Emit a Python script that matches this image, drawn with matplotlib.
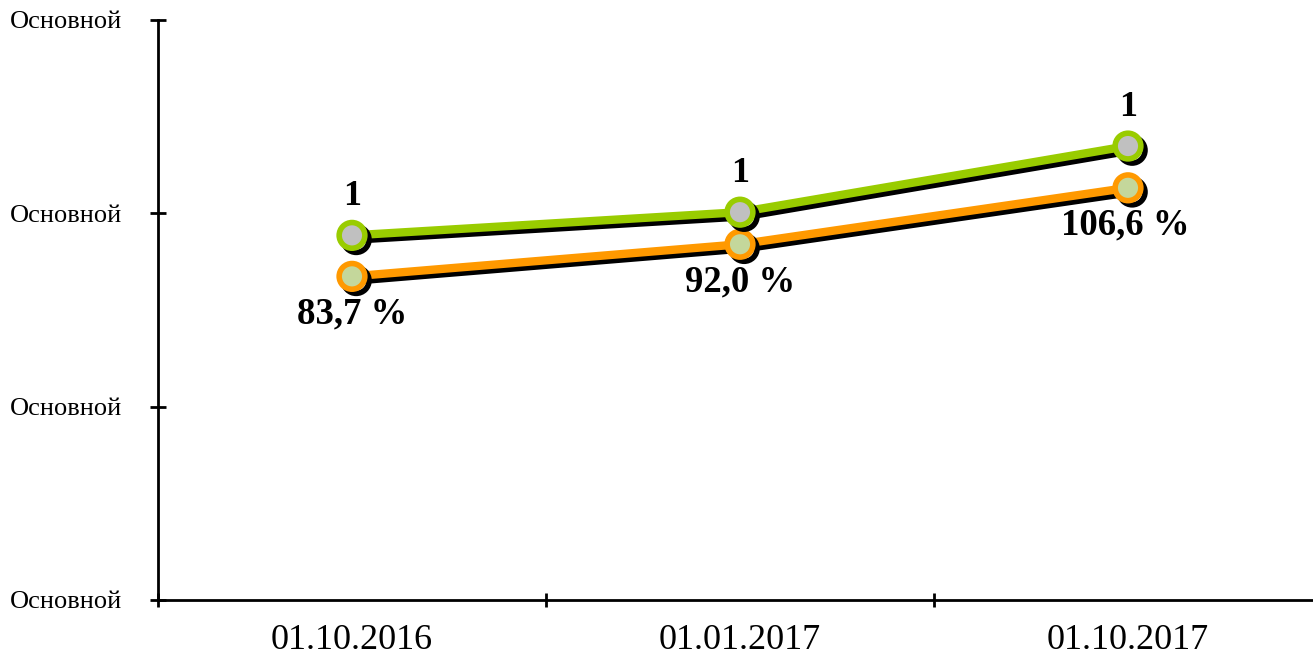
import matplotlib
matplotlib.use("Agg")
import matplotlib.pyplot as plt
import matplotlib.patheffects as pe
from matplotlib.ticker import FixedLocator

categories = ["01.10.2016", "01.01.2017", "01.10.2017"]
green_vals = [0.943, 1.003, 1.174]
orange_vals = [0.837, 0.920, 1.066]
green_labels = ["1", "1", "1"]
orange_labels = ["83,7 %", "92,0 %", "106,6 %"]
y_ticks = [0.0, 0.5, 1.0, 1.5]
y_tick_labels = ["Основной"] * 4

plt.rcParams['font.family'] = ['Liberation Serif', 'DejaVu Serif']

fig = plt.figure(figsize=(13.13, 6.58), dpi=100)
ax = fig.add_axes([158/1313, 1 - 600/658, 1164/1313, 580/658])

x = list(range(len(categories)))
shadow = [pe.SimpleLineShadow(offset=(3, -3), shadow_color='black', alpha=1.0), pe.Normal()]

ax.plot(x, orange_vals, color='#FF9900', lw=6, marker='o', ms=18.5,
        mfc='#C4D79B', mec='#FF9900', mew=4, path_effects=shadow, zorder=3, clip_on=False)
ax.plot(x, green_vals, color='#99CC00', lw=6, marker='o', ms=18.5,
        mfc='#C0C0C0', mec='#99CC00', mew=4, path_effects=shadow, zorder=4, clip_on=False)

for i in x:
    ax.annotate(green_labels[i], (i, green_vals[i]), xytext=(0, 28), textcoords='offset points',
                ha='center', va='center', fontsize=26, fontweight='bold')
    dx = -2 if i == 2 else 0
    ax.annotate(orange_labels[i], (i, orange_vals[i]), xytext=(dx, -27), textcoords='offset points',
                ha='center', va='center', fontsize=26.5, fontweight='bold')

ax.set_xlim(-0.5, 2.5)
ax.set_ylim(0, 1.5)
ax.set_yticks(y_ticks)
ax.set_yticklabels(y_tick_labels, fontsize=19)
ax.set_xticks(x)
ax.set_xticklabels(categories, fontsize=26)
ax.xaxis.set_minor_locator(FixedLocator([-0.5, 0.5, 1.5]))
ax.tick_params(axis='x', which='major', length=0, pad=17)
ax.tick_params(axis='x', which='minor', direction='inout', length=10, width=2)
ax.tick_params(axis='y', which='major', direction='inout', length=12, width=2, pad=20)

for s in ['top', 'right']:
    ax.spines[s].set_visible(False)
for s in ['left', 'bottom']:
    ax.spines[s].set_linewidth(2)

fig.savefig("out.png", dpi=100)
